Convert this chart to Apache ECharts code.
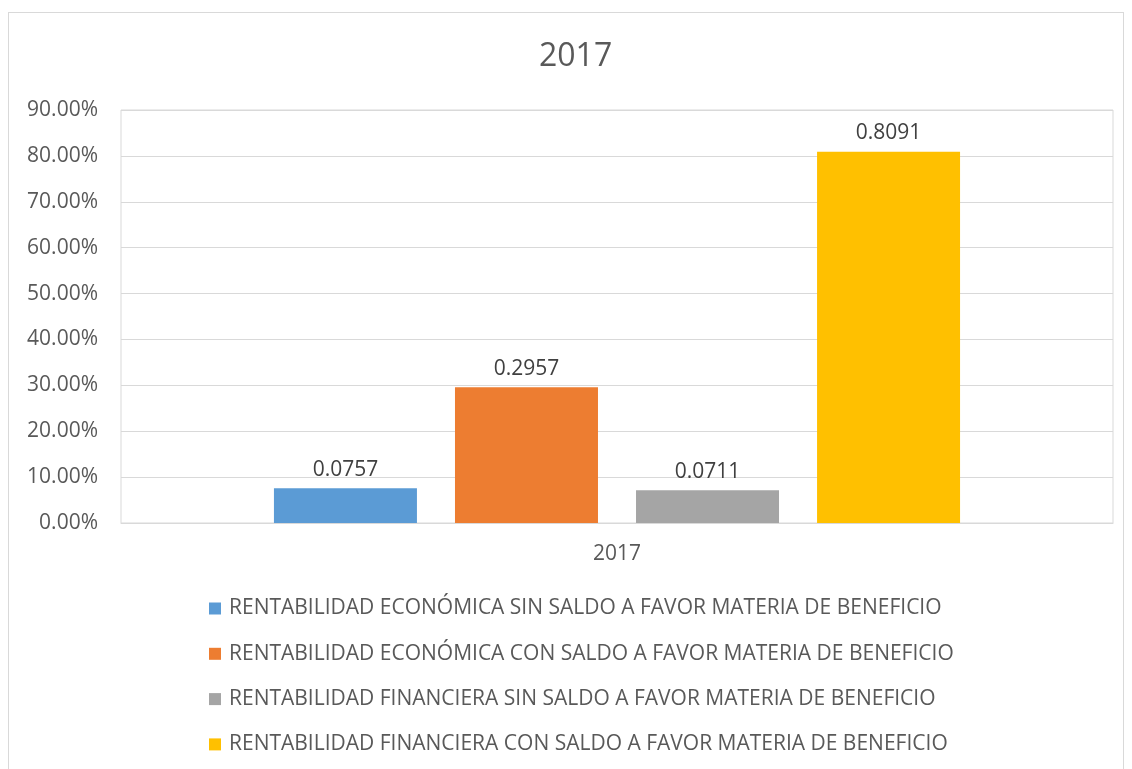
<!DOCTYPE html>
<html>
<head>
    <meta charset="utf-8">
    <title>2017</title>
    <script src="https://cdn.jsdelivr.net/npm/echarts@6/dist/echarts.min.js"></script>
    <style>
        body { margin: 0; background: #fff; }
        #frame { position: absolute; left: 8px; top: 12px; width: 1114px; height: 760px; border: 1px solid #d9d9d9; }
        #main { position: absolute; left: 0; top: 0; width: 1132px; height: 769px; }
    </style>
</head>
<body>
<div id="frame"></div>
<div id="main"></div>
<script type="text/javascript">
    // datos
    var categorias = ['2017'];
    var nombres = [
        'RENTABILIDAD ECONÓMICA SIN SALDO A FAVOR MATERIA DE BENEFICIO',
        'RENTABILIDAD ECONÓMICA CON SALDO A FAVOR MATERIA DE BENEFICIO',
        'RENTABILIDAD FINANCIERA SIN SALDO A FAVOR MATERIA DE BENEFICIO',
        'RENTABILIDAD FINANCIERA CON SALDO A FAVOR MATERIA DE BENEFICIO'
    ];
    var economicaSin = [0.0757];
    var economicaCon = [0.2957];
    var financieraSin = [0.0711];
    var financieraCon = [0.8091];
    var colores = ['#5b9bd5', '#ed7d31', '#a5a5a5', '#ffc000'];

    var valores = [economicaSin, economicaCon, financieraSin, financieraCon];
    var fuente = '"Open Sans", "Liberation Sans", sans-serif';

    var myChart = echarts.init(document.getElementById('main'));

    var series = valores.map(function (v, i) {
        return {
            name: nombres[i],
            type: 'bar',
            data: v,
            barWidth: 143,
            barGap: '26.6%',
            itemStyle: { color: colores[i] },
            label: {
                show: true,
                position: 'top',
                distance: 8,
                color: '#404040',
                fontSize: 21,
                fontFamily: fuente,
                formatter: function (p) { return p.value.toFixed(4); }
            }
        };
    });

    myChart.setOption({
        animation: false,
        title: {
            text: '2017',
            left: 534,
            top: 36,
            textStyle: { color: '#595959', fontSize: 32, fontWeight: 'normal', fontFamily: fuente }
        },
        legend: {
            orient: 'vertical',
            left: 204,
            top: 593,
            itemWidth: 12,
            itemHeight: 12,
            itemGap: 24.3,
            icon: 'rect',
            textStyle: { color: '#595959', fontSize: 21, fontFamily: fuente, padding: [0, 0, 0, 3] },
            data: nombres
        },
        grid: { left: 121, right: 19, top: 110, bottom: 246, show: true, borderColor: '#d9d9d9', borderWidth: 1 },
        xAxis: {
            type: 'category',
            data: categorias,
            axisLine: { lineStyle: { color: '#d9d9d9', width: 1 } },
            axisTick: { show: false },
            axisLabel: { color: '#595959', fontSize: 21, fontFamily: fuente, margin: 21 }
        },
        yAxis: {
            type: 'value',
            min: 0,
            max: 0.9,
            interval: 0.1,
            axisLine: { show: false },
            axisTick: { show: false },
            splitLine: { lineStyle: { color: '#d9d9d9', width: 1 } },
            axisLabel: {
                color: '#595959',
                fontSize: 21,
                fontFamily: fuente,
                margin: 23,
                formatter: function (v) { return (v * 100).toFixed(2) + '%'; }
            }
        },
        series: series
    });
</script>
</body>
</html>
